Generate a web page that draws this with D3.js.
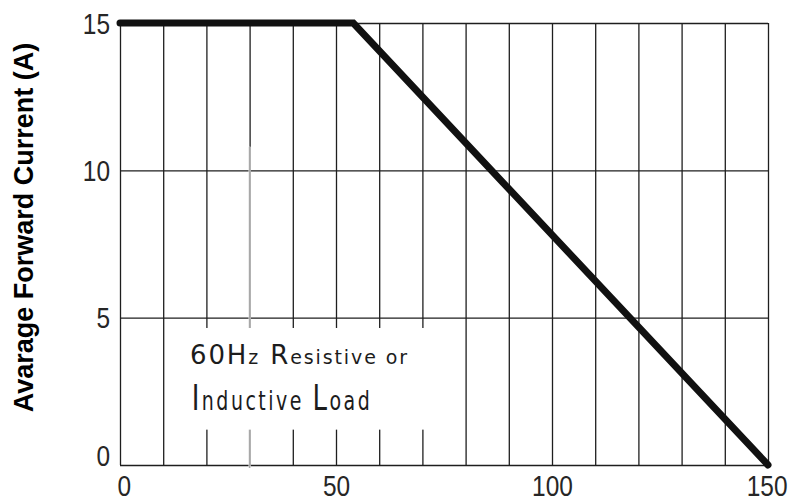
<!DOCTYPE html>
<html>
<head>
<meta charset="utf-8">
<script src="https://cdn.jsdelivr.net/npm/d3@7/dist/d3.min.js"></script>
<style>
  body { margin: 0; background: #fff; }
  svg { display: block; background: #fff; }
  .grid line { stroke: #1e1e1e; stroke-width: 1.3; }
  .domain { display: none; }
  .tick text {
    font-family: "Liberation Sans", Arial, sans-serif;
    font-size: 29px;
    fill: #262626;
  }
  .note { font-family: "DejaVu Sans", sans-serif; fill: #1c1c1c; }
  .title { font-family: "Liberation Sans", Arial, sans-serif; font-size: 27px; font-weight: bold; fill: #000; }
</style>
</head>
<body>
<svg id="chart" width="793" height="502"></svg>
<script>
// case temperature (°C) grid and labels
const gridTemps = [0, 10, 20, 30, 40, 50, 60, 70, 80, 90, 100, 110, 120, 130, 140, 150];
const tempLabels = [0, 50, 100, 150];
const currentLabels = [0, 5, 10, 15];

// derating curve
const curveTemp = [0, 54, 150];
const curveCurrent = [15, 15, 0];

const noteLines = [
  [["60H", "cap"], ["z", "low"], [" R", "cap"], ["esistive or", "low"]],
  [["I", "cap"], ["nductive ", "low"], ["L", "cap"], ["oad", "low"]]
];

const svg = d3.select("#chart");

const x = d3.scaleLinear().domain([0, 150]).range([120, 768]);
const y = d3.scaleLinear().domain([0, 15]).range([465, 23]);

const plotW = x(150) - x(0);
const plotH = y(0) - y(15);
const digitW = 13.6; // condensed digit width

// vertical grid
svg.append("g")
    .attr("class", "grid")
    .attr("transform", `translate(0,${y(0)})`)
    .call(d3.axisBottom(x).tickValues(gridTemps).tickSize(-plotH).tickFormat(""));

// horizontal grid + y labels
const yAxis = svg.append("g")
    .attr("class", "grid")
    .attr("transform", `translate(${x(0)},0)`)
    .call(d3.axisLeft(y).tickValues(currentLabels).tickSize(-plotW).tickPadding(10));
yAxis.selectAll(".tick text")
    .attr("x", -10)
    .attr("dy", d => d === 0 ? "0.02em" : "0.35em")
    .attr("textLength", d => String(d).length * digitW)
    .attr("lengthAdjust", "spacingAndGlyphs");

// x labels
const xAxis = svg.append("g")
    .attr("transform", `translate(0,${y(0)})`)
    .call(d3.axisBottom(x).tickValues(tempLabels).tickSize(0).tickPadding(10));
xAxis.selectAll(".tick text")
    .attr("dy", "0.71em")
    .attr("text-anchor", d => d === 0 ? "start" : d === 150 ? "end" : "middle")
    .attr("x", d => d === 0 ? -3 : d === 150 ? 19 : 0)
    .attr("textLength", d => String(d).length * digitW)
    .attr("lengthAdjust", "spacingAndGlyphs");

// faded lower part of the 30 line (scan artefact)
svg.append("line")
    .attr("x1", x(30)).attr("x2", x(30))
    .attr("y1", y(10.8)).attr("y2", y(-0.1))
    .attr("stroke", "#fff").attr("stroke-width", 2);
svg.append("line")
    .attr("x1", x(30)).attr("x2", x(30))
    .attr("y1", y(10.8)).attr("y2", y(-0.1))
    .attr("stroke", "#a8a8a8").attr("stroke-width", 1.6);

// white box behind the note
svg.append("rect")
    .attr("x", x(12.5))
    .attr("y", y(4.65))
    .attr("width", x(73.6) - x(12.5))
    .attr("height", y(1.2) - y(4.65))
    .attr("fill", "#fff");

// note text, second line is drawn taller
const noteStyle = [
  { x: 16.2, y: 3.42, cap: 26, low: 19, len: 217, sy: 1 },
  { x: 16.6, y: 1.86, cap: 26, low: 19, len: 178, sy: 1.36 }
];
noteLines.forEach((parts, i) => {
  const s = noteStyle[i];
  const t = svg.append("text")
      .attr("class", "note")
      .attr("transform", `translate(${x(s.x)},${y(s.y)}) scale(1,${s.sy})`)
      .attr("textLength", s.len)
      .attr("lengthAdjust", "spacing")
      .style("white-space", "pre");
  t.selectAll("tspan")
      .data(parts)
    .enter().append("tspan")
      .attr("font-size", d => s[d[1]])
      .text(d => d[0]);
});

// derating curve
const curve = curveTemp.map((t, i) => [t, curveCurrent[i]]);
svg.append("path")
    .datum(curve)
    .attr("fill", "none")
    .attr("stroke", "#111")
    .attr("stroke-width", 7)
    .attr("stroke-linejoin", "miter")
    .attr("stroke-linecap", "round")
    .attr("d", d3.line().x(d => x(d[0])).y(d => y(d[1])));

// y axis title
svg.append("text")
    .attr("class", "title")
    .attr("transform", `translate(33,${(47 + 408) / 2}) rotate(-90)`)
    .attr("text-anchor", "middle")
    .text("Avarage Forward Current (A)");
</script>
</body>
</html>
